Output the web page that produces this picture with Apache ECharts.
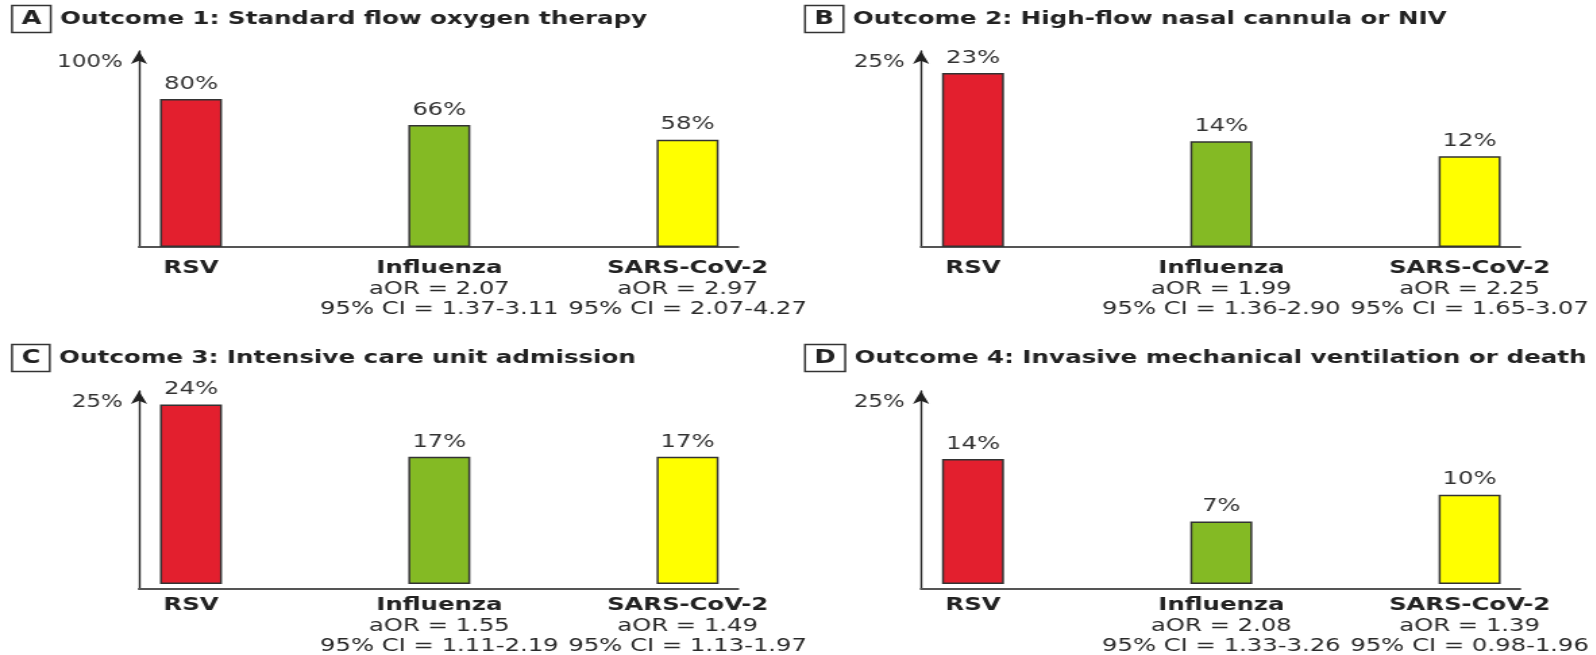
<!DOCTYPE html>
<html>
<head>
<meta charset="utf-8">
<script src="https://cdn.jsdelivr.net/npm/echarts@6/dist/echarts.min.js"></script>
<style>
  html, body { margin: 0; padding: 0; background: #ffffff; overflow: hidden; }
  #chart { height: 655px; transform-origin: 0 0; }
</style>
</head>
<body>
<div id="chart"></div>
<script>
// ---- data ----
const categories = ['RSV', 'Influenza', 'SARS-CoV-2'];
const panelLetters = ['A', 'B', 'C', 'D'];
const panelTitles = [
  'Outcome 1: Standard flow oxygen therapy',
  'Outcome 2: High-flow nasal cannula or NIV',
  'Outcome 3: Intensive care unit admission',
  'Outcome 4: Invasive mechanical ventilation or death'
];
const axisMax = [100, 25, 25, 25];
const axisMaxLabels = ['100%', '25%', '25%', '25%'];

const outcome1 = [80, 66, 58];
const outcome2 = [23, 14, 12];
const outcome3 = [24, 17, 17];
const outcome4 = [14, 7, 10];

const aor1 = [null, '2.07', '2.97'];
const aor2 = [null, '1.99', '2.25'];
const aor3 = [null, '1.55', '1.49'];
const aor4 = [null, '2.08', '1.39'];

const ci1 = [null, '1.37-3.11', '2.07-4.27'];
const ci2 = [null, '1.36-2.90', '1.65-3.07'];
const ci3 = [null, '1.11-2.19', '1.13-1.97'];
const ci4 = [null, '1.33-3.26', '0.98-1.96'];

const barColors = ['#e31f2e', '#84ba24', '#ffff00'];

// ---- layout ----
// The figure is typeset narrow and then widened horizontally by S.
const S = 1.35;
const W = 1596;
const el = document.getElementById('chart');
el.style.width = (W / S) + 'px';
el.style.transform = 'scaleX(' + S + ')';

const values = [outcome1, outcome2, outcome3, outcome4];
const aors = [aor1, aor2, aor3, aor4];
const cis = [ci1, ci2, ci3, ci4];

const axisX = [139, 921, 139, 921];      // vertical axis position
const arrowY = [45, 45, 385, 385];       // arrow tip
const baseY = [247, 247, 589, 589];      // horizontal axis
const maxY = [62, 58, 397, 361];         // level of the axis maximum
const axisLen = 599;
const firstCenter = 52;                  // first bar centre from the axis
const band = 248.3;                      // distance between bar centres
const titleX = [12, 805, 12, 805];
const titleY = [9, 9, 348, 348];
const FONT = 'DejaVu Sans';

const grids = [], xAxes = [], yAxes = [], series = [], titles = [];

for (let i = 0; i < 4; i++) {
  // frame grid: the two axis lines with the arrow
  const fTop = arrowY[i] + 6;
  grids.push({ left: axisX[i] / S, width: axisLen / S, top: fTop, height: baseY[i] - fTop });
  xAxes.push({
    gridIndex: 2 * i, type: 'value', min: 0, max: 1,
    axisLine: { show: true, lineStyle: { color: '#555', width: 2 } },
    axisTick: { show: false }, axisLabel: { show: false }, splitLine: { show: false }
  });
  yAxes.push({
    gridIndex: 2 * i, type: 'value', min: 0, max: 1, interval: 1,
    axisLine: { show: true, symbol: ['none', 'arrow'], symbolSize: [9, 13],
      lineStyle: { color: '#222', width: 1.4 } },
    axisTick: { show: false }, splitLine: { show: false },
    axisLabel: {
      show: true, margin: 12, fontFamily: FONT, fontSize: 17, color: '#333',
      verticalAlign: 'top', lineHeight: 24,
      formatter: (v) => (v === 1 ? axisMaxLabels[i] : '')
    }
  });

  // plot grid: category bands and bars
  const left = axisX[i] + firstCenter - band / 2;
  grids.push({ left: left / S, width: 3 * band / S, top: maxY[i], height: baseY[i] - maxY[i] });
  xAxes.push({
    gridIndex: 2 * i + 1, type: 'category', data: categories,
    axisLine: { show: false }, axisTick: { show: false },
    axisLabel: {
      interval: 0, margin: 11, fontFamily: FONT, color: '#222', verticalAlign: 'top',
      formatter: (v, idx) => {
        if (aors[i][idx] == null) return '{b|' + v + '}';
        return '{b|' + v + '}\n{n|aOR = ' + aors[i][idx] + '}\n{n|95% CI = ' + cis[i][idx] + '}';
      },
      rich: {
        b: { fontFamily: FONT, fontSize: 18, fontWeight: 'bold', lineHeight: 21, color: '#222' },
        n: { fontFamily: FONT, fontSize: 18, lineHeight: 20, color: '#2a2a2a' }
      }
    }
  });
  yAxes.push({ gridIndex: 2 * i + 1, type: 'value', min: 0, max: axisMax[i], show: false });

  series.push({
    type: 'bar', xAxisIndex: 2 * i + 1, yAxisIndex: 2 * i + 1,
    barWidth: 62 / S,
    data: values[i].map((v, k) => ({
      value: v,
      itemStyle: { color: barColors[k], borderColor: '#333', borderWidth: 1.5 }
    })),
    label: {
      show: true, position: 'top', distance: 6, formatter: '{c}%',
      fontFamily: FONT, fontSize: 18, color: '#333'
    },
    animation: false
  });

  titles.push({
    left: titleX[i] / S, top: titleY[i], padding: 0,
    text: '{box|' + panelLetters[i] + '}{t|' + panelTitles[i] + '}',
    textStyle: {
      rich: {
        box: { fontFamily: FONT, fontSize: 19, fontWeight: 'bold', color: '#222',
          borderColor: '#333', borderWidth: 1.5, padding: [4, 7, 4, 7], lineHeight: 20 },
        t: { fontFamily: FONT, fontSize: 18.2, fontWeight: 'bold', color: '#222',
          padding: [0, 0, 0, 7] }
      }
    }
  });
}

const chart = echarts.init(el, null, { renderer: 'canvas' });
chart.setOption({
  backgroundColor: '#ffffff',
  animation: false,
  title: titles,
  grid: grids,
  xAxis: xAxes,
  yAxis: yAxes,
  series: series
});
</script>
</body>
</html>
